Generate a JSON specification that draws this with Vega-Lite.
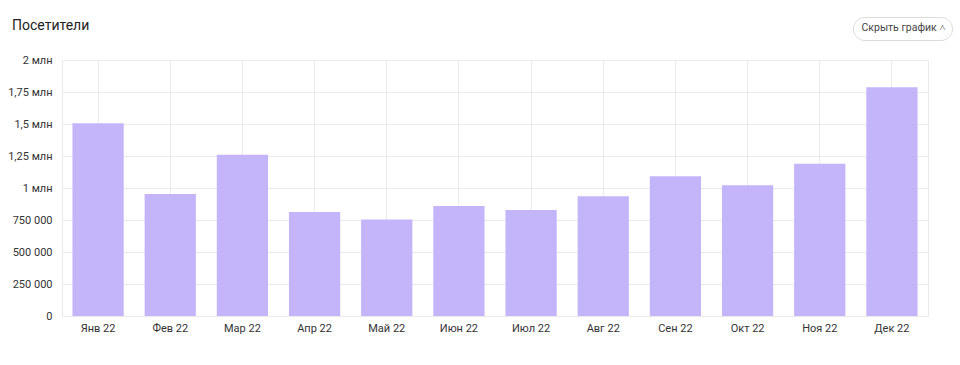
{
  "$schema": "https://vega.github.io/schema/vega-lite/v6.json",
  "width": 866,
  "height": 256,
  "autosize": {"type": "none"},
  "padding": {"left": 62, "top": 60, "right": 32, "bottom": 49},
  "background": "#ffffff",
  "title": {
    "text": "Посетители",
    "anchor": "start",
    "frame": "group",
    "dx": -50,
    "offset": -27,
    "baseline": "alphabetic",
    "font": "Roboto",
    "fontSize": 14,
    "fontWeight": "normal",
    "color": "#222222"
  },
  "data": {
    "values": [
      {"month": "Янв 22", "visitors": 1505000},
      {"month": "Фев 22", "visitors": 953000},
      {"month": "Мар 22", "visitors": 1260000},
      {"month": "Апр 22", "visitors": 812000},
      {"month": "Май 22", "visitors": 753000},
      {"month": "Июн 22", "visitors": 859000},
      {"month": "Июл 22", "visitors": 828000},
      {"month": "Авг 22", "visitors": 935000},
      {"month": "Сен 22", "visitors": 1091000},
      {"month": "Окт 22", "visitors": 1021000},
      {"month": "Ноя 22", "visitors": 1190000},
      {"month": "Дек 22", "visitors": 1787000}
    ]
  },
  "mark": {"type": "bar"},
  "encoding": {
    "x": {
      "field": "month",
      "type": "nominal",
      "sort": null,
      "scale": {"paddingInner": 0.29, "paddingOuter": 0.145},
      "axis": {
        "title": null,
        "labelAngle": 0,
        "grid": true,
        "gridColor": "#ebebeb",
        "ticks": false,
        "domain": false,
        "labelPadding": 6,
        "labelFont": "Roboto",
        "labelFontSize": 11,
        "labelColor": "#333333"
      }
    },
    "y": {
      "field": "visitors",
      "type": "quantitative",
      "scale": {"domain": [0, 2000000], "nice": false},
      "axis": {
        "title": null,
        "values": [0, 250000, 500000, 750000, 1000000, 1250000, 1500000, 1750000, 2000000],
        "labelExpr": "datum.value >= 1000000 ? replace(format(datum.value / 1000000, '~g'), '.', ',') + ' млн' : replace(format(datum.value, ',d'), ',', ' ')",
        "grid": true,
        "gridColor": "#ebebeb",
        "ticks": false,
        "domain": false,
        "labelPadding": 10,
        "labelFont": "Roboto",
        "labelFontSize": 11,
        "labelColor": "#333333"
      }
    },
    "color": {
      "datum": "Скрыть график ˄",
      "type": "nominal",
      "scale": {"range": ["#c4b4fa"]},
      "legend": {
        "title": null,
        "orient": "none",
        "legendX": 791,
        "legendY": -43,
        "fillColor": "#ffffff",
        "strokeColor": "#dcdcdc",
        "cornerRadius": 12,
        "padding": 6,
        "symbolType": "circle",
        "symbolSize": 0,
        "symbolStrokeWidth": 0,
        "symbolOpacity": 0,
        "labelOffset": -8,
        "labelFont": "Roboto",
        "labelFontSize": 10.5,
        "labelColor": "#444444"
      }
    }
  },
  "config": {
    "view": {"stroke": "#ebebeb"}
  }
}
